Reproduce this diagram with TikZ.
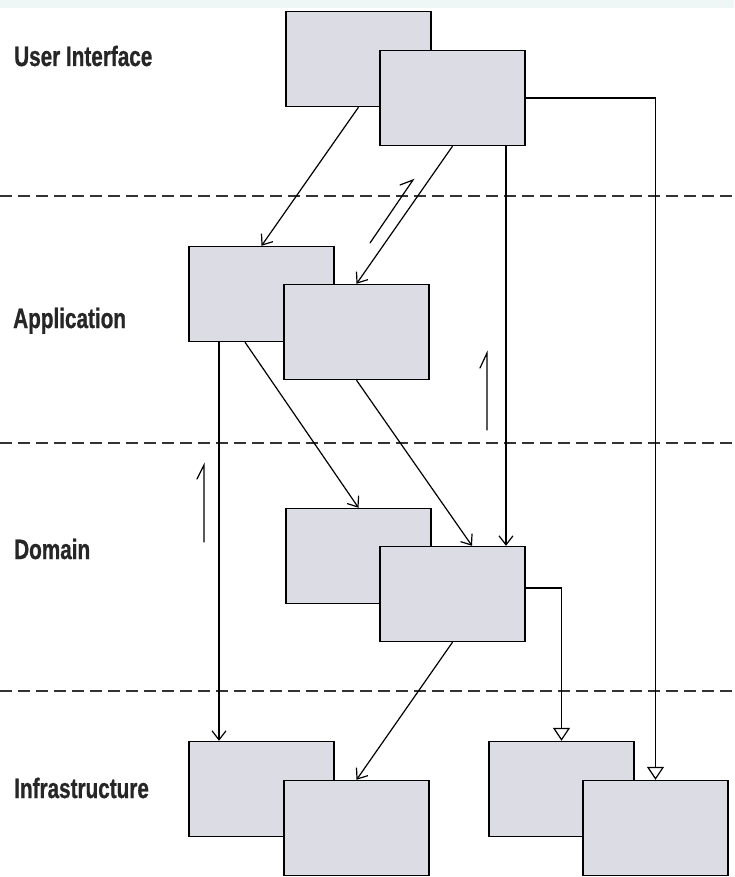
\documentclass[tikz,border=0pt]{standalone}
\usepackage{fontspec}
\newfontfamily\labfont{Liberation Sans Bold}[FakeStretch=0.74,FakeBold=0.8]
\usetikzlibrary{arrows.meta,calc}
\definecolor{boxfill}{HTML}{DCDCE4}
\definecolor{topband}{HTML}{EEF6F6}
\begin{document}
\begin{tikzpicture}[x=1pt,y=-1pt,
  layerbox/.style={draw=black,line width=1.4pt,fill=boxfill,minimum width=145pt,minimum height=95pt,inner sep=0pt},
  layerlabel/.style={anchor=base west,inner sep=0pt,text=black!85,font=\labfont\fontsize{28}{32}\selectfont},
  sep/.style={dashed,dash pattern=on 12pt off 6pt,line width=1.2pt,draw=black!80},
  conn/.style={line width=1.2pt,-{Straight Barb[length=9pt,width=14pt,line width=1.2pt]}},
  genz/.style={line width=1.2pt,-{Triangle[open,fill=white,length=13pt,width=17pt,line width=1.2pt]}},
  hint/.style={line width=1.2pt,line cap=round}]
\useasboundingbox (0,0) rectangle (734,877);
\fill[topband] (0,0) rectangle (734,8);
% separators
\coordinate (s1l) at (0,196); \coordinate (s1r) at (734,196);
\coordinate (s2l) at (0,443); \coordinate (s2r) at (734,443);
\coordinate (s3l) at (0,691); \coordinate (s3r) at (734,691);
\draw[sep] (s1l) -- (s1r);
\draw[sep] (s2l) -- (s2r);
\draw[sep] (s3l) -- (s3r);
% labels
\node[layerlabel] (lui) at (14,66) {User Interface};
\node[layerlabel] (lapp) at (13,328) {Application};
\node[layerlabel] (ldom) at (14,559) {Domain};
\node[layerlabel] (linf) at (14,798) {Infrastructure};
% boxes
\node[layerbox] (ui1) at (358.5,59) {};
\node[layerbox] (ui2) at (452.5,98) {};
\node[layerbox] (app1) at (261.5,294) {};
\node[layerbox] (app2) at (356.5,332) {};
\node[layerbox] (dom1) at (358.5,556) {};
\node[layerbox] (dom2) at (452.5,594) {};
\node[layerbox] (inf1) at (261.5,789) {};
\node[layerbox] (inf2) at (356.5,828) {};
\node[layerbox] (inf3) at (561.5,789) {};
\node[layerbox] (inf4) at (655.5,828) {};
% connectors
\draw[conn] (ui1.south) -- (app1.north);
\draw[conn] (ui2.south) -- (app2.north);
\draw[conn] ([xshift=53.5pt]ui2.south) -- ([xshift=53.5pt]dom2.north);
\draw[genz] (ui2.east) -| (inf4.north);
\draw[conn] ([xshift=-42.5pt]app1.south) -- ([xshift=-42.5pt]inf1.north);
\draw[conn] ([xshift=-16.5pt]app1.south) -- (dom1.north);
\draw[conn] (app2.south) -- ([xshift=19.5pt]dom2.north);
\draw[genz] ([yshift=6pt]dom2.east) -| (inf3.north);
\draw[conn] (dom2.south) -- (inf2.north);
% direction hints
\draw[hint] (370,243) -- (413,180) -- (400,185);
\draw[hint] (204,542) -- (204,465) -- (197,479);
\draw[hint] (487,430) -- (487,353) -- (480,368);
\end{tikzpicture}
\end{document}
